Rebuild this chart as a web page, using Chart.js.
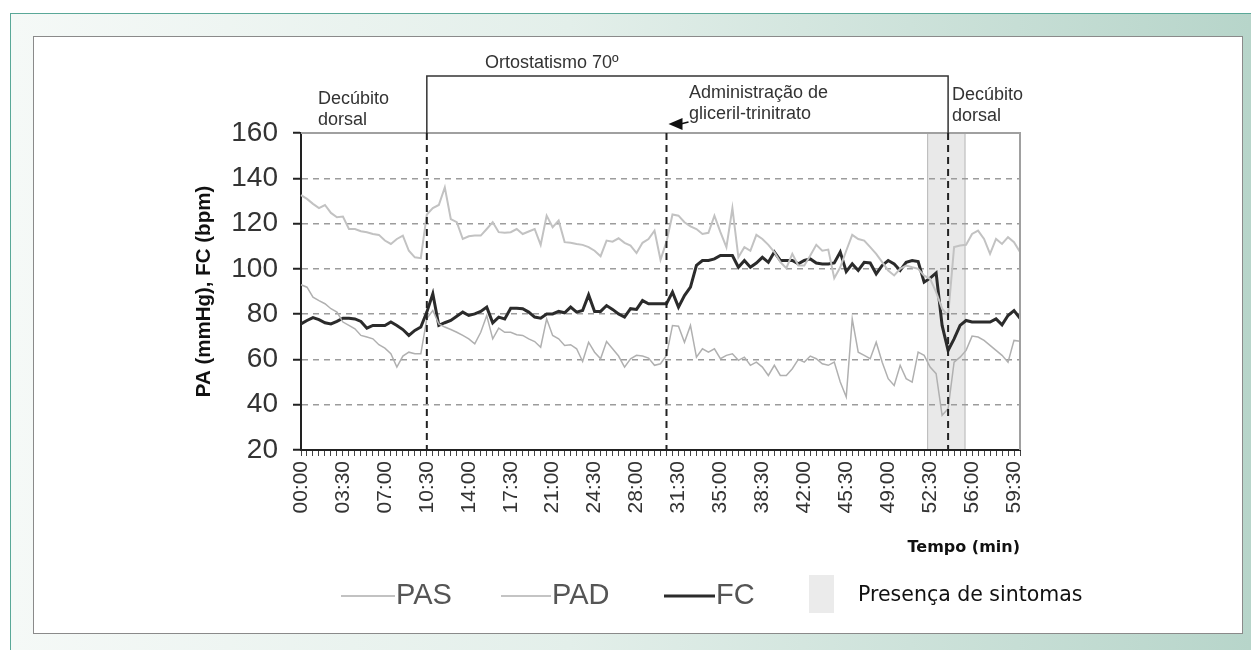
<!DOCTYPE html>
<html lang="pt">
<head>
  <meta charset="UTF-8" />
  <title>PA e FC durante teste de inclinação</title>
  <script src="https://cdn.jsdelivr.net/npm/chart.js"></script>
  <style>
    html, body {
      margin: 0;
      width: 1251px;
      height: 650px;
      overflow: hidden;
      background: #fff;
    }
    .frame {
      position: absolute;
      left: 10px;
      top: 13px;
      right: 0;
      bottom: 0;
      border-top: 1px solid #5aa898;
      border-left: 1px solid #5aa898;
      background: linear-gradient(to right, #f5f9f7 0%, #e3efea 45%, #b7d5ca 100%);
    }
    .panel {
      position: absolute;
      left: 33px;
      top: 36px;
      width: 1210px;
      height: 598px;
      box-sizing: border-box;
      border: 1px solid #8a8a8a;
      background: #fff;
    }
    canvas { display: block; }
  </style>
</head>
<body>
  <div class="frame"></div>
  <div class="panel">
    <canvas id="tiltChart" width="1208" height="596"></canvas>
  </div>

  <script>
    // one reading every 30 s, 00:00 .. 60:00
    const categories = [];
    for (let s = 0; s <= 3600; s += 30) {
      const m = String(Math.floor(s / 60)).padStart(2, '0');
      const sec = String(s % 60).padStart(2, '0');
      categories.push(m + ':' + sec);
    }

    const tickLabels = ['00:00', '03:30', '07:00', '10:30', '14:00', '17:30', '21:00', '24:30', '28:00',
      '31:30', '35:00', '38:30', '42:00', '45:30', '49:00', '52:30', '56:00', '59:30'];

    const pas = [132.6, 130.9, 128.7, 126.8, 128.2, 124.7, 122.8, 123.1, 117.6, 117.6, 116.6, 116.2, 115.4, 115, 112.5, 111,
      113.2, 114.7, 108, 105.1, 104.7, 124, 126.8, 128.2, 136, 122, 120.6, 113.2, 114.4, 114.7, 114.7, 117.6, 120.6, 116.2,
      115.9, 116.2, 117.6, 115.4, 116.5, 117.6, 110.6, 123.5, 118.4, 121.3, 111.8, 111.5, 111, 110.6, 109.6, 108, 105.6,
      112.5, 112, 113.5, 111.5, 110.3, 107, 111.5, 113.2, 116.9, 104,
      112, 124, 123.5, 120.6, 118.8, 117.6, 115.4, 115.9, 123.5, 116.2, 109.6, 126.8, 105.1, 109.6, 108, 115, 113.2, 110.6,
      107.4, 103, 100.3, 106.6, 101.5, 101.5, 105.9, 110.6, 108, 108.5, 95.9, 100.7, 108, 115, 113.2, 112.5, 109.6, 106.6,
      103, 99.3, 97.1, 100, 101.5, 100.7, 100, 97, 95.6, 89.7, 82.4, 79.4, 109.6, 110.3, 110.6, 115.4, 116.9, 113.2, 106.6,
      113.2, 111, 114, 111.8, 107.4];

    const pad = [93, 91.9, 87.5, 86, 84.6, 82.4, 80.9, 76.5, 75, 73.5, 70.6, 69.9, 69.1, 66.5, 65, 62.5, 56.6, 61.5, 63.2,
      62.5, 62.5, 78, 81.6, 75.7, 74.3, 73.2, 72, 70.6, 69.1, 66.9, 72, 79.4, 69.1, 73.8, 72, 72, 70.9, 70.6, 69.1, 67.9,
      65.4, 77.9, 70.6, 69.1, 66.2, 66.5, 64.7, 59.1, 67.6, 63.2, 60.3, 67.9, 64.7, 61.5, 56.6, 60.3, 61.8, 61.5, 60.6,
      57.4, 58.1,
      61.8, 75, 74.7, 67.6, 75, 61, 64.7, 63.2, 64.7, 60.3, 61.8, 62.5, 59.6, 61, 57.4, 58.8, 56.6, 52.9, 57.4, 52.9, 52.9,
      55.9, 60, 58.8, 61.5, 60.3, 58.1, 57.4, 58.8, 50, 43.4, 77.9, 63.2, 61.8, 60.3, 67.6, 58.8, 51.5, 48.5, 57.4, 51.5,
      50, 63.2, 61.8, 56.6, 53.7, 35.3, 38.2, 58.8, 61, 64, 70.3, 69.9, 68.4, 66.2, 64, 61.8, 58.8, 68.4, 68];

    const fc = [75.7, 77.2, 78.5, 77.6, 76.2, 75.7, 76.8, 78.2, 78.2, 77.9, 76.8, 73.8, 75, 75, 75, 76.5, 75, 73.2, 70.6,
      72.8, 74.3, 80.9, 89, 75, 76.2, 77.2, 79.1, 80.9, 79.4, 80.1, 81.2, 83.1, 76.2, 78.7, 77.9, 82.6, 82.6, 82.4, 80.9,
      78.7, 78.2, 80.1, 80.1, 81.2, 80.6, 83.1, 80.9, 81.6, 88.5, 81.2, 81.2, 83.8, 82.1, 80.1, 78.7, 82.4, 82.1, 86, 84.6,
      84.6, 84.6,
      84.6, 89.7, 83.1, 88.2, 91.9, 101.5, 103.7, 103.7, 104.4, 105.9, 105.9, 105.9, 100.7, 103.7, 100.7, 102.6, 105.1,
      102.9, 107.4, 103.7, 103.7, 103.7, 102.2, 103.7, 104.4, 102.6, 102.2, 102.2, 102.6, 107.4, 98.8, 102.2, 99.3, 102.9,
      102.6, 97.8, 101.5, 103.7, 102.2, 99.3, 102.9, 103.7, 103.2, 94.1, 95.9, 98.2, 75, 64, 69.1, 75, 77.2, 76.5, 76.5,
      76.5, 76.5, 77.9, 75.3, 79.4, 81.6, 78.2];

    // events (category index) and symptom band
    const tiltStart = 21;     // 10:30
    const gtnStart = 61;      // 30:30
    const tiltEnd = 108;      // 54:00
    const symptoms = [104.5, 110.9];

    const SANS = "'Liberation Sans', Arial, sans-serif";
    const DEJAVU = "'DejaVu Sans', Verdana, sans-serif";

    const decor = {
      id: 'decor',
      beforeDraw(chart) {
        const { ctx, chartArea: a, scales: { x } } = chart;
        const x1 = x.getPixelForValue(symptoms[0]);
        const x2 = x.getPixelForValue(symptoms[1]);
        ctx.save();
        ctx.fillStyle = '#e9e9e9';
        ctx.fillRect(x1, a.top, x2 - x1, a.bottom - a.top);
        ctx.strokeStyle = '#b8b8b8';
        ctx.lineWidth = 1;
        ctx.strokeRect(x1 + 0.5, a.top, x2 - x1 - 1, a.bottom - a.top);
        ctx.restore();
      },
      afterDatasetsDraw(chart) {
        const { ctx, chartArea: a, scales: { x } } = chart;
        const xa = x.getPixelForValue(tiltStart);
        const xb = x.getPixelForValue(gtnStart);
        const xc = x.getPixelForValue(tiltEnd);
        const bracketY = 39;

        ctx.save();
        // plot frame top / right
        ctx.strokeStyle = '#a0a0a0';
        ctx.lineWidth = 2;
        ctx.beginPath();
        ctx.moveTo(a.left, a.top);
        ctx.lineTo(a.right, a.top);
        ctx.lineTo(a.right, a.bottom);
        ctx.stroke();

        // dashed event lines
        ctx.strokeStyle = '#222';
        ctx.lineWidth = 2;
        ctx.setLineDash([7, 5]);
        [xa, xb, xc].forEach(px => {
          ctx.beginPath();
          ctx.moveTo(px, a.top);
          ctx.lineTo(px, a.bottom);
          ctx.stroke();
        });
        ctx.setLineDash([]);

        // bracket for tilt period
        ctx.strokeStyle = '#333';
        ctx.lineWidth = 1.5;
        ctx.beginPath();
        ctx.moveTo(xa, a.top);
        ctx.lineTo(xa, bracketY);
        ctx.lineTo(xc, bracketY);
        ctx.lineTo(xc, a.top);
        ctx.stroke();

        // arrow for GTN
        ctx.fillStyle = '#111';
        ctx.beginPath();
        ctx.moveTo(xb + 2, 87);
        ctx.lineTo(xb + 16, 81);
        ctx.lineTo(xb + 16, 93);
        ctx.closePath();
        ctx.fill();
        ctx.strokeStyle = '#111';
        ctx.lineWidth = 1.5;
        ctx.beginPath();
        ctx.moveTo(xb + 14, 87);
        ctx.lineTo(xb + 22, 85);
        ctx.stroke();

        // annotation texts
        ctx.fillStyle = '#333';
        ctx.font = '18px ' + SANS;
        ctx.textAlign = 'left';
        ctx.textBaseline = 'middle';
        ctx.fillText('Ortostatismo 70º', 451, 26);
        ctx.fillText('Decúbito', 284, 62);
        ctx.fillText('dorsal', 284, 83);
        ctx.fillText('Administração de', 655, 56);
        ctx.fillText('gliceril-trinitrato', 655, 77);
        ctx.fillText('Decúbito', 918, 58);
        ctx.fillText('dorsal', 918, 79);

        // legend
        const ly = 559;
        const items = [
          { x: 307, w: 54, color: '#c2c2c2', width: 2, text: 'PAS' },
          { x: 467, w: 50, color: '#b0b0b0', width: 1.5, text: 'PAD' },
          { x: 630, w: 51, color: '#2b2b2b', width: 3, text: 'FC' }
        ];
        ctx.font = '29px ' + SANS;
        items.forEach(it => {
          ctx.strokeStyle = it.color;
          ctx.lineWidth = it.width;
          ctx.beginPath();
          ctx.moveTo(it.x, ly);
          ctx.lineTo(it.x + it.w, ly);
          ctx.stroke();
          ctx.fillStyle = '#555';
          ctx.fillText(it.text, it.x + it.w + 1, ly);
        });
        ctx.fillStyle = '#ebebeb';
        ctx.fillRect(775, 538, 25, 38);
        ctx.fillStyle = '#111';
        ctx.font = '20.5px ' + DEJAVU;
        ctx.fillText('Presença de sintomas', 824, ly);
        ctx.restore();
      }
    };

    const ctx = document.getElementById('tiltChart').getContext('2d');
    new Chart(ctx, {
      type: 'line',
      data: {
        labels: categories,
        datasets: [
          { label: 'PAS', data: pas, borderColor: '#c2c2c2', borderWidth: 2 },
          { label: 'PAD', data: pad, borderColor: '#b0b0b0', borderWidth: 1.5 },
          { label: 'FC', data: fc, borderColor: '#2b2b2b', borderWidth: 3 }
        ]
      },
      options: {
        responsive: false,
        animation: false,
        layout: { padding: { left: 158, right: 222, top: 96, bottom: 76 } },
        elements: {
          point: { radius: 0 },
          line: { tension: 0, fill: false }
        },
        plugins: {
          legend: { display: false },
          tooltip: { enabled: false }
        },
        scales: {
          x: {
            type: 'category',
            afterFit(scale) { scale.height = 107; },
            grid: {
              drawOnChartArea: false,
              drawTicks: true,
              tickLength: 6,
              tickColor: '#444',
              tickWidth: 1
            },
            border: { display: true, color: '#222', width: 2 },
            ticks: {
              autoSkip: false,
              minRotation: 90,
              maxRotation: 90,
              padding: 5,
              color: '#333',
              font: { family: SANS, size: 21 },
              callback(value, index) {
                const lab = categories[index];
                return tickLabels.includes(lab) ? lab : '';
              }
            },
            title: {
              display: true,
              text: 'Tempo (min)',
              align: 'end',
              padding: 0,
              color: '#111',
              font: { family: DEJAVU, size: 16, weight: 'bold' }
            }
          },
          y: {
            min: 20,
            max: 160,
            afterFit(scale) { scale.width = 109; },
            grid: {
              color: c => (c.tick && (c.tick.value === 20 || c.tick.value === 160)) ? 'rgba(0,0,0,0)' : '#9c9c9c',
              lineWidth: 1.5,
              drawTicks: true,
              tickLength: 8,
              tickColor: '#222',
              tickWidth: 2
            },
            border: { display: true, color: '#222', width: 2, dash: [6, 5] },
            ticks: {
              stepSize: 20,
              padding: 15,
              color: '#333',
              font: { family: SANS, size: 28 }
            },
            title: {
              display: true,
              text: 'PA (mmHg), FC (bpm)',
              padding: 0,
              color: '#111',
              font: { family: SANS, size: 20.5, weight: 'bold' }
            }
          }
        }
      },
      plugins: [decor]
    });
  </script>
</body>
</html>
